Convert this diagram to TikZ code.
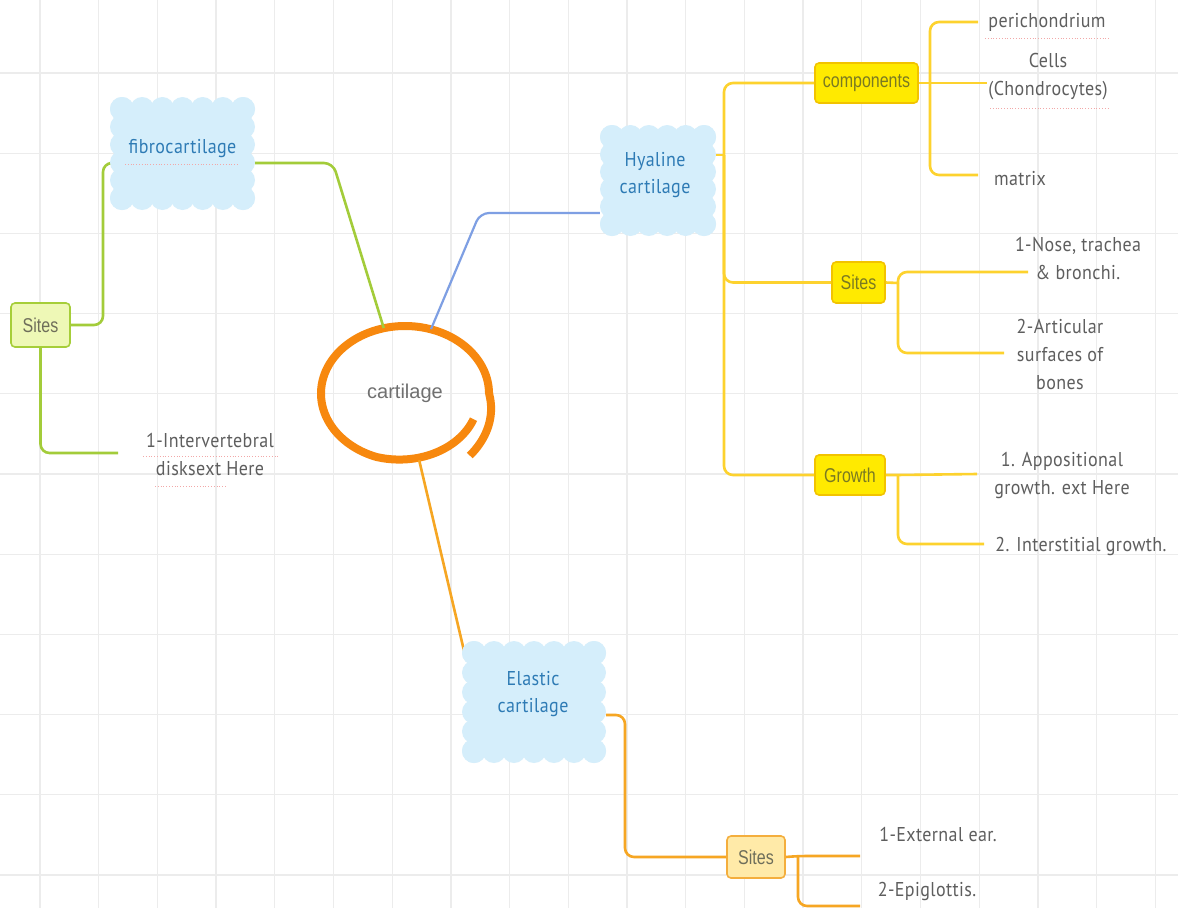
\documentclass[tikz,border=0pt]{standalone}
\usepackage{fontspec}
\usetikzlibrary{shapes.geometric,calc}
\newfontfamily\leaffont[FakeStretch=0.9,LetterSpace=2]{PT Sans}
\newfontfamily\boxfont[FakeStretch=0.8]{Liberation Sans}
\newfontfamily\corefont{Liberation Sans}
\definecolor{gridc}{HTML}{ECECEC}
\definecolor{corange}{HTML}{F7880E}
\definecolor{lorange}{HTML}{F6A623}
\definecolor{cgreen}{HTML}{A3CC3A}
\definecolor{cblue}{HTML}{7E9FE3}
\definecolor{cyellow}{HTML}{FDD22E}
\definecolor{cloudc}{HTML}{D5EEFB}
\definecolor{cloudtxt}{HTML}{2E7BB5}
\definecolor{leafc}{HTML}{5E5E5E}
\definecolor{corec}{HTML}{707070}
\definecolor{ybfill}{HTML}{FFEA00}
\definecolor{ybdraw}{HTML}{F2C300}
\definecolor{ybtext}{HTML}{7A7A22}
\definecolor{gbfill}{HTML}{EEF8B6}
\definecolor{gbdraw}{HTML}{A6CE39}
\definecolor{obfill}{HTML}{FFEAA8}
\definecolor{obdraw}{HTML}{F4AE3D}
\definecolor{btext}{HTML}{6E6E5A}
\definecolor{spell}{HTML}{F2A8A8}
\newcommand\cloudshape[4]{%
  \pgfmathsetmacro\cxl{#1-#3/2+12}\pgfmathsetmacro\cxr{#1+#3/2-12}%
  \pgfmathsetmacro\cyt{#2-#4/2+12}\pgfmathsetmacro\cyb{#2+#4/2-12}%
  \fill[cloudc] (\cxl,\cyt) rectangle (\cxr,\cyb);
  \pgfmathtruncatemacro\nx{round((\cxr-\cxl)/19)}%
  \pgfmathtruncatemacro\ny{round((\cyb-\cyt)/19)}%
  \foreach \i in {0,...,\nx}{%
    \pgfmathsetmacro\xx{\cxl+\i*(\cxr-\cxl)/\nx}%
    \fill[cloudc] (\xx,\cyt) circle (12pt);
    \fill[cloudc] (\xx,\cyb) circle (12pt);}
  \foreach \j in {0,...,\ny}{%
    \pgfmathsetmacro\yy{\cyt+\j*(\cyb-\cyt)/\ny}%
    \fill[cloudc] (\cxl,\yy) circle (12pt);
    \fill[cloudc] (\cxr,\yy) circle (12pt);}
}
\begin{document}
\begin{tikzpicture}[x=1pt,y=-1pt,
  gridline/.style={draw=gridc,line width=1.3pt},
  conn/.style={line width=2.6pt,rounded corners=9pt},
  leaf/.style={font=\leaffont\fontsize{20}{28}\selectfont,text=leafc,align=center,inner sep=1pt},
  cloudlabel/.style={font=\leaffont\fontsize{20}{27}\selectfont,text=cloudtxt,align=center,inner sep=0pt},
  boxbase/.style={rectangle,rounded corners=4pt,line width=1.6pt,inner sep=0pt,font=\boxfont\fontsize{20}{24}\selectfont},
  ybox/.style={boxbase,fill=ybfill,draw=ybdraw,text=ybtext},
  gbox/.style={boxbase,fill=gbfill,draw=gbdraw,text=btext},
  obox/.style={boxbase,fill=obfill,draw=obdraw,text=btext},
  spellline/.style={draw=spell,line width=0.8pt,dotted},
]
\useasboundingbox (0,0) rectangle (1178,908);
\fill[white] (0,0) rectangle (1178,908);
\foreach \k in {0,...,19} \draw[gridline] ({40+58.7*\k},0) -- ({40+58.7*\k},908);
\foreach \k in {0,...,10} \draw[gridline] (0,{73+80.2*\k}) -- (1178,{73+80.2*\k});

% central topic: hand-drawn spiral ring around the label
\node[ellipse,minimum width=168pt,minimum height=135pt,inner sep=0pt,
      font=\corefont\fontsize{20}{24}\selectfont,text=corec] (core) at (405,393.5) {cartilage};
\draw[corange,line width=8pt,line cap=butt] plot[variable=\t,domain=-50:335,samples=160,smooth]
  ({405+84*(1-0.004*\t*(\t<0)-0.00118*(\t-250)*(\t>250))*cos(\t)},
   {393.5-67.5*(1-0.004*\t*(\t<0)-0.00118*(\t-250)*(\t>250))*sin(\t)});

% main-topic nodes (clouds are drawn later behind their labels)
\node[cloudlabel,minimum width=145pt,minimum height=113pt] (fib) at (182.5,153.5) {};
\node[cloudlabel,minimum width=116pt,minimum height=111pt] (hya) at (658,180.5) {};
\node[cloudlabel,minimum width=144pt,minimum height=122pt] (ela) at (534,702) {};

% boxes
\node[ybox,minimum width=103pt,minimum height=40pt] (comp) at (866.5,83) {components};
\node[ybox,minimum width=53pt,minimum height=41pt] (hsites) at (858.5,282.5) {Sites};
\node[ybox,minimum width=70pt,minimum height=40pt] (growth) at (850,475) {Growth};
\node[gbox,minimum width=59pt,minimum height=44pt] (fsites) at (40.5,325) {Sites};
\node[obox,minimum width=58pt,minimum height=42pt] (esites) at (756,857) {Sites};

% leaf texts
\node[leaf] (peri) at (1047,22) {perichondrium};
\node[leaf] (cells) at (1048,77) {Cells\\(Chondrocytes)};
\node[leaf] (matrix) at (1020,179) {matrix};
\node[leaf] (nose) at (1078,258) {1-Nose, trachea\\\& bronchi.};
\node[leaf] (art) at (1060,354) {2-Articular\\surfaces of\\bones};
\node[leaf] (appo) at (1062,475) {1. Appositional\\growth. ext Here};
\node[leaf] (inter) at (1081,546) {2. Interstitial growth.};
\node[leaf] (ext) at (938,834) {1-External ear.};
\node[leaf] (epi) at (927,891) {2-Epiglottis.};
\node[leaf] (ivd) at (210,454) {1-Intervertebral\\disksext Here};

% coordinates for bends and free ends
\coordinate (gf1) at (333,163);
\coordinate (bl1) at (480,213);
\coordinate (elin) at (465,655);
\coordinate (elout) at (606,715);
\coordinate (ej) at (625,715);
\coordinate (hj) at (724,155);
\coordinate (cj) at (930,83);
\coordinate (sj) at (898,283);
\coordinate (gj) at (898,475);
\coordinate (esj) at (798,856);
\coordinate (fj) at (103,163);
\coordinate (noseend) at (1028,272);
\coordinate (artend) at (1004,353);
\coordinate (appoend) at (977,474);
\coordinate (interend) at (984,544);
\coordinate (extend) at (860,856);
\coordinate (epiend) at (860,906);
\coordinate (ivdend) at (118,453);
\coordinate (periend) at (978,22);
\coordinate (matend) at (978,175);

% connectors
\draw[conn,cgreen] (core.108) -- (gf1) -- (gf1 -| fib.east);
\draw[conn,cblue,line width=2.2pt] (core.68) -- (bl1) -- (bl1 -| hya.west);
\draw[conn,lorange] (core.-78) -- (elin);
\draw[conn,cgreen] (fsites.east) -| (fj) -- (fj -| fib.west);
\draw[conn,cgreen] (fsites.south) |- (ivdend);

\draw[conn,cyellow] (hya.east |- hj) -- (hj);
\draw[conn,cyellow] (hj) |- (comp.west);
\draw[conn,cyellow] (hj) |- (hsites.west);
\draw[conn,cyellow] (hj) |- (growth.west);
\draw[conn,cyellow] (comp.east) -- (cj);
\draw[conn,cyellow] (cj) |- (periend);
\draw[conn,cyellow] (cj) -- (cj -| cells.west);
\draw[conn,cyellow] (cj) |- (matend);
\draw[conn,cyellow] (hsites.east) -- (sj);
\draw[conn,cyellow] (sj) |- (noseend);
\draw[conn,cyellow] (sj) |- (artend);
\draw[conn,cyellow] (growth.east) -- (gj) -- (appoend);
\draw[conn,cyellow] (gj) |- (interend);

\draw[conn,lorange] (elout) -- (ej) |- (esites.west);
\draw[conn,lorange] (esites.east) -- (esj) -- (extend);
\draw[conn,lorange] (esj) |- (epiend);

% clouds
\cloudshape{182.5}{153.5}{145}{113}
\cloudshape{658}{180.5}{116}{111}
\cloudshape{534}{702}{144}{122}
\node[cloudlabel] at ($(fib.center)+(0,-5)$) {fibrocartilage};
\node[cloudlabel] at ($(hya.center)+(-3,-5)$) {Hyaline\\cartilage};
\node[cloudlabel] at ($(ela.center)+(-1,-8)$) {Elastic\\cartilage};

% spell-check underlines
\draw[spellline] (125,164) -- (238,164);
\draw[spellline] (985,38) -- (1110,38);
\draw[spellline] (990,108) -- (1110,108);
\draw[spellline] (143,456) -- (278,456);
\draw[spellline] (155,486) -- (227,486);
\end{tikzpicture}
\end{document}
